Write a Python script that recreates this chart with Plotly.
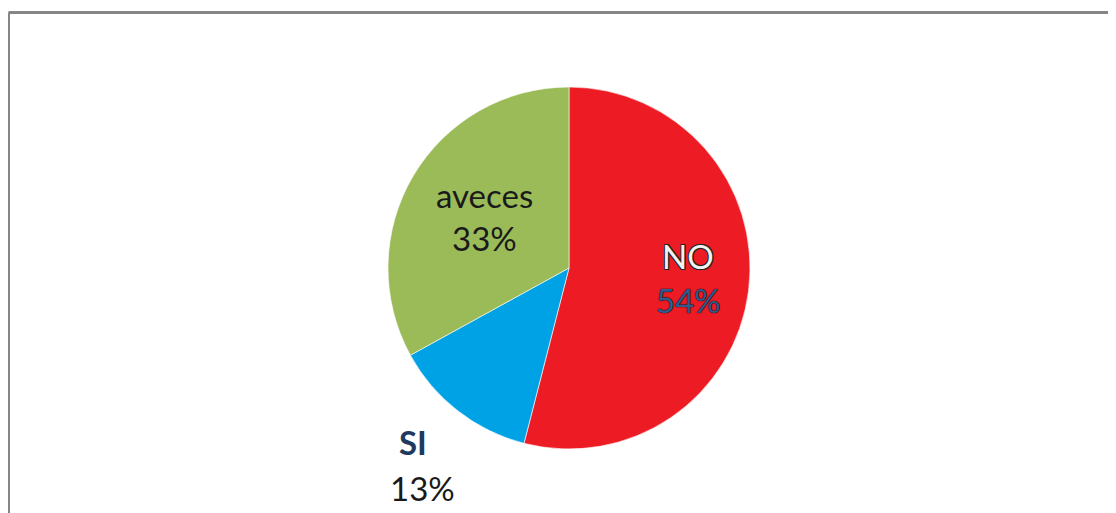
import plotly.graph_objects as go

# page body has an 8px margin; draw in reference pixel coords minus this offset
OFF = 8
W, H = 1116 - OFF, 513 - OFF

categories = ["NO", "SI", "aveces"]
values = [54, 13, 33]
colors = ["#ED1C24", "#00A2E6", "#9BBB59"]

pie_left, pie_right, pie_top, pie_bottom = 388, 750, 87, 449


def px(x):
    return (x - OFF) / W


def py(y):
    return 1 - (y - OFF) / H


fig = go.Figure(go.Pie(
    labels=categories,
    values=values,
    sort=False,
    direction="clockwise",
    rotation=0,
    textinfo="none",
    hoverinfo="label+percent",
    marker=dict(colors=colors, line=dict(color="#FFFFFF", width=0.6)),
    domain=dict(x=[px(pie_left), px(pie_right)], y=[py(pie_bottom), py(pie_top)]),
    showlegend=False,
))

total = sum(values)
pcts = [f"{round(v / total * 100)}%" for v in values]

FONT = "Lato"
SIZE = 33
outline_light = "-1px -1px 0 #222, 1px -1px 0 #222, -1px 1px 0 #222, 1px 1px 0 #222"
outline_dark = "0 0 1px #000, 0 0 1px #000"

place = {
    "NO": ((688, 256, dict(color="#F2F2F2", shadow=outline_light)),
           (688, 300, dict(color="#2F5B8F", shadow=outline_dark))),
    "SI": ((413, 442, dict(color="#1F3A60", weight="bold")),
           (422, 488, dict(color="#1A1A1A"))),
    "aveces": ((484, 195, dict(color="#1A1A1A")),
               (484, 238, dict(color="#1A1A1A"))),
}

annotations = []
for cat, pct in zip(categories, pcts):
    (x1, y1, f1), (x2, y2, f2) = place[cat]
    for txt, x, y, f in ((cat, x1, y1, f1), (pct, x2, y2, f2)):
        annotations.append(dict(
            text=txt, x=px(x), y=py(y), xref="paper", yref="paper",
            xanchor="center", yanchor="middle", showarrow=False,
            font=dict(family=FONT, size=SIZE, **f),
        ))

shapes = [
    dict(type="line", xref="paper", yref="paper",
         x0=px(8.5), x1=1.01, y0=py(12.5), y1=py(12.5),
         line=dict(color="#868686", width=3)),
    dict(type="line", xref="paper", yref="paper",
         x0=px(8.5), x1=px(8.5), y0=py(12.5), y1=-0.02,
         line=dict(color="#868686", width=3)),
]

fig.update_layout(
    width=W, height=H,
    margin=dict(l=0, r=0, t=0, b=0),
    paper_bgcolor="white", plot_bgcolor="white",
    annotations=annotations, shapes=shapes,
)

fig.write_html("out.html")
